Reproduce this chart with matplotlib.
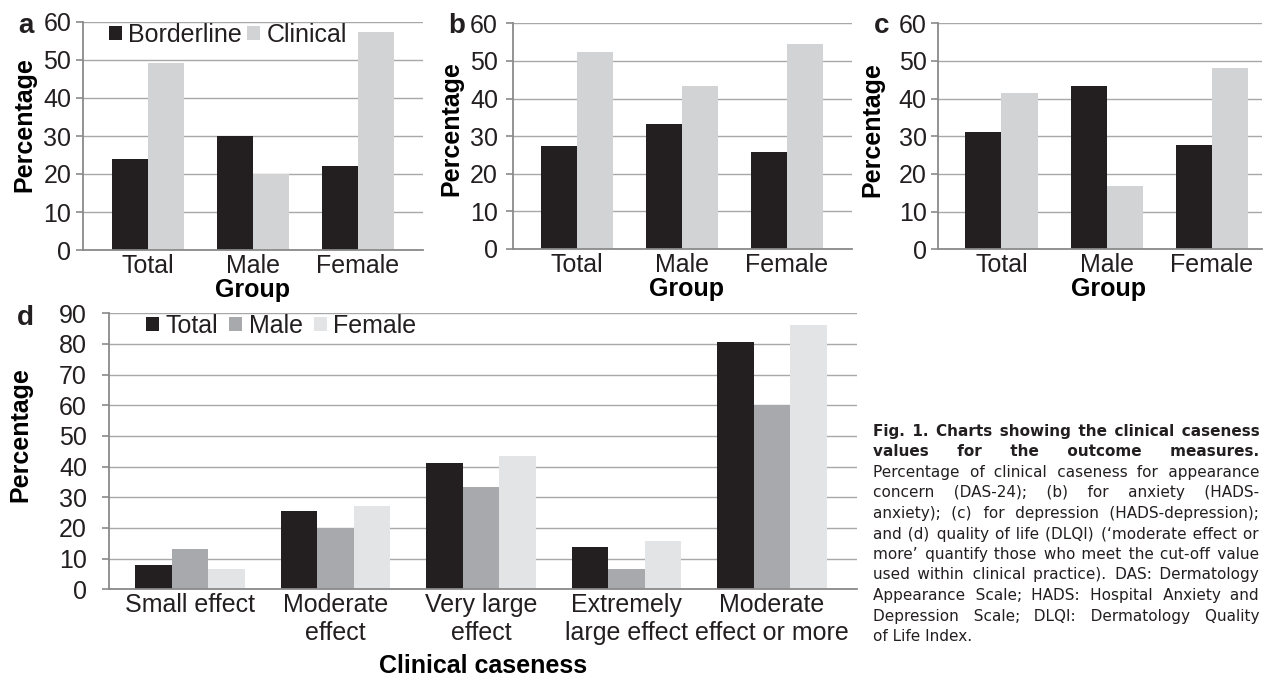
import numpy as np
import matplotlib
matplotlib.use("Agg")
import matplotlib.pyplot as plt

plt.rcParams["font.family"] = ["Liberation Sans", "DejaVu Sans"]
plt.rcParams["text.color"] = "#231f20"

# data (percentages)
groups = ["Total", "Male", "Female"]
das_borderline = [23.9, 30.0, 22.2]
das_clinical = [49.3, 20.0, 57.4]
anx_borderline = [27.5, 33.3, 25.8]
anx_clinical = [52.3, 43.3, 54.6]
dep_borderline = [31.1, 43.3, 27.7]
dep_clinical = [41.5, 16.7, 48.0]

caseness = ["Small effect", "Moderate\neffect", "Very large\neffect",
            "Extremely\nlarge effect", "Moderate\neffect or more"]
dlqi_total = [8.0, 25.4, 41.2, 13.8, 80.6]
dlqi_male = [13.3, 20.0, 33.3, 6.7, 60.0]
dlqi_female = [6.6, 27.1, 43.6, 15.8, 86.3]

caption = [
    ("Fig. 1. Charts showing the clinical caseness", "bold"),
    ("values for the outcome measures.", "bold"),
    ("Percentage of clinical caseness for appearance", "normal"),
    ("concern (DAS-24); (b) for anxiety (HADS-", "normal"),
    ("anxiety); (c) for depression (HADS-depression);", "normal"),
    ("and (d) quality of life (DLQI) (\u2018moderate effect or", "normal"),
    ("more\u2019 quantify those who meet the cut-off value", "normal"),
    ("used within clinical practice). DAS: Dermatology", "normal"),
    ("Appearance Scale; HADS: Hospital Anxiety and", "normal"),
    ("Depression Scale; DLQI: Dermatology Quality", "normal"),
    ("of Life Index.", "normal"),
]

DARK = "#231f20"
LIGHT = "#d1d3d4"
MID = "#a7a9ac"
PALE = "#e3e4e6"
GRID = "#a8a8a8"
FS = 18

W, H = 1263, 678
fig = plt.figure(figsize=(W / 100, H / 100), dpi=100)


def style(ax, ymax, pad):
    ax.set_ylim(0, ymax)
    ax.set_yticks(np.arange(0, ymax + 1, 10))
    ax.set_axisbelow(True)
    ax.yaxis.grid(True, color=GRID, lw=1.0)
    for s in ["top", "right"]:
        ax.spines[s].set_visible(False)
    for s in ["left", "bottom"]:
        ax.spines[s].set_color("#8a8a8a")
        ax.spines[s].set_linewidth(1.3)
    ax.tick_params(axis="x", length=0, labelsize=FS, pad=3, colors=DARK)
    ax.tick_params(axis="y", length=5, width=1.2, color="#8a8a8a",
                   labelsize=FS, pad=pad, labelcolor=DARK)


def two_bar(rect, left_vals, right_vals, xlim, pad, ylab_xy, xlab_xy):
    ax = fig.add_axes(rect)
    x = np.arange(len(groups))
    w = 0.343
    ax.bar(x - w / 2, left_vals, w, color=DARK, label="Borderline")
    ax.bar(x + w / 2, right_vals, w, color=LIGHT, label="Clinical")
    ax.set_xticks(x)
    ax.set_xticklabels(groups)
    ax.set_xlim(*xlim)
    style(ax, 60, pad)
    ax.set_ylabel("Percentage", fontsize=FS, fontweight="bold")
    ax.yaxis.set_label_coords(*ylab_xy)
    ax.set_xlabel("Group", fontsize=FS, fontweight="bold")
    ax.xaxis.set_label_coords(*xlab_xy)
    return ax


# panel a
ax_a = two_bar([83 / W, 1 - 250 / H, 340 / W, 228 / H],
               das_borderline, das_clinical, (-0.62, 2.62), 3.4,
               (-0.138, 0.548), (0.5, -0.122))
ax_a.legend(loc="upper left", bbox_to_anchor=(0.076, 0.995), frameon=False,
            ncol=2, fontsize=FS, handlelength=0.53, handleheight=0.5,
            handletextpad=0.25, columnspacing=0.2, borderpad=0,
            borderaxespad=0)

# panel b
two_bar([513 / W, 1 - 249 / H, 339 / W, 225.7 / H],
        anx_borderline, anx_clinical, (-0.61, 2.62), 5.8,
        (-0.147, 0.532), (0.513, -0.124))

# panel c
two_bar([938 / W, 1 - 249.3 / H, 324 / W, 226 / H],
        dep_borderline, dep_clinical, (-0.603, 2.475), 3.2,
        (-0.164, 0.532), (0.525, -0.124))

# panel d
ax_d = fig.add_axes([109 / W, 1 - 589.3 / H, 748 / W, 276 / H])
x = np.arange(len(caseness))
w = 0.25
ax_d.bar(x - w, dlqi_total, w, color=DARK, label="Total")
ax_d.bar(x, dlqi_male, w, color=MID, label="Male")
ax_d.bar(x + w, dlqi_female, w, color=PALE, label="Female")
ax_d.set_xticks(x)
ax_d.set_xticklabels(caseness, linespacing=1.2)
ax_d.set_xlim(-0.557, 4.584)
style(ax_d, 90, 10.8)
ax_d.set_ylabel("Percentage", fontsize=FS, fontweight="bold")
ax_d.yaxis.set_label_coords(-0.102, 0.559)
ax_d.set_xlabel("Clinical caseness", fontsize=FS, fontweight="bold")
ax_d.xaxis.set_label_coords(0.5, -0.236)
ax_d.legend(loc="upper left", bbox_to_anchor=(0.049, 0.998), frameon=False,
            ncol=3, fontsize=FS, handlelength=0.53, handleheight=0.5,
            handletextpad=0.25, columnspacing=0.45, borderpad=0,
            borderaxespad=0)

# panel letters
for letter, px, py in [("a", 18, 33), ("b", 448, 33), ("c", 874, 33), ("d", 17, 325)]:
    fig.text(px / W, 1 - py / H, letter, fontsize=20, fontweight="bold",
             va="baseline", color=DARK)

# caption: one text per line, justified by filling the word gaps with hair spaces
renderer = fig.canvas.get_renderer()
HAIR = "\u200a"
x_left, x_right = 873, 1259
y0 = 436


def text_width(t, s):
    t.set_text(s)
    return t.get_window_extent(renderer).width


for i, (line, weight) in enumerate(caption):
    y = 1 - (y0 + i * 20.5) / H
    t = fig.text(x_left / W, y, line, fontsize=11, family="DejaVu Sans",
                 fontweight=weight, va="baseline", color=DARK)
    if i == len(caption) - 1:
        continue
    words = line.split()
    hair_w = (text_width(t, "a" + HAIR * 40 + "a") - text_width(t, "aa")) / 40
    bare = text_width(t, "".join(words))
    n_gaps = len(words) - 1
    per_gap = (x_right - x_left - bare) / hair_w / n_gaps
    out, used = words[0], 0
    for k, wd in enumerate(words[1:], start=1):
        n = int(round(per_gap * k)) - used
        used += n
        out += HAIR * n + wd
    t.set_text(out)

fig.savefig("out.png", dpi=100)
